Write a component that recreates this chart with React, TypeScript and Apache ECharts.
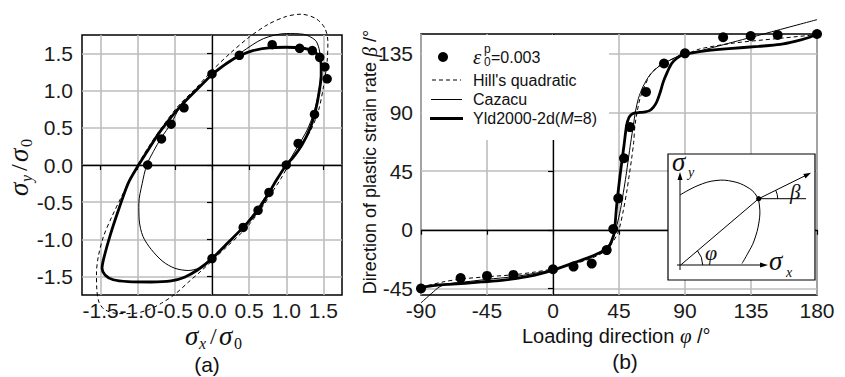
import React, { useEffect, useRef } from "react";
import * as echarts from "echarts";

// ---------- (a) yield loci ----------
const aTicks = [-1.5, -1.0, -0.5, 0, 0.5, 1.0, 1.5];
const aDots = [
  [0, 1.225], [0.368, 1.476], [0.81, 1.62], [1.18, 1.57], [1.35, 1.54], [1.45, 1.45],
  [1.52, 1.32], [1.55, 1.16], [1.38, 0.68], [1.16, 0.29], [1.0, 0], [0.767, -0.37],
  [0.62, -0.61], [0.42, -0.84], [0, -1.26], [-0.866, 0], [-0.68, 0.35], [-0.55, 0.55],
  [-0.377, 0.77],
];
const aYld = [
  [0, 1.22], [0.2, 1.37], [0.37, 1.47], [0.55, 1.54], [0.8, 1.58], [1.0, 1.585], [1.2, 1.575],
  [1.35, 1.54], [1.43, 1.47], [1.47, 1.35], [1.47, 1.2], [1.45, 1.03], [1.4, 0.76], [1.32, 0.49],
  [1.21, 0.27], [1.09, 0.1], [1.0, 0], [0.87, -0.2], [0.77, -0.37], [0.62, -0.61], [0.42, -0.84],
  [0.2, -1.06], [0, -1.26], [-0.19, -1.41], [-0.37, -1.51], [-0.55, -1.56], [-0.82, -1.575],
  [-1.13, -1.57], [-1.33, -1.545], [-1.44, -1.48], [-1.48, -1.39], [-1.45, -1.23], [-1.375, -0.96],
  [-1.26, -0.61], [-1.13, -0.25], [-1.0, -0.02], [-0.88, 0.17], [-0.7, 0.45], [-0.43, 0.785],
  [-0.21, 1.01], [0, 1.22],
];
const aCazacu = [
  [0, 1.22], [0.2, 1.37], [0.4, 1.52], [0.69, 1.7], [1.0, 1.77], [1.23, 1.76], [1.39, 1.68],
  [1.44, 1.57], [1.46, 1.42], [1.46, 1.2], [1.43, 0.95], [1.37, 0.7], [1.28, 0.47], [1.16, 0.26],
  [1.06, 0.09], [1.0, 0], [0.87, -0.2], [0.75, -0.38], [0.6, -0.6], [0.42, -0.83], [0.2, -1.05],
  [0, -1.26], [-0.17, -1.385], [-0.32, -1.42], [-0.5, -1.39], [-0.66, -1.3], [-0.815, -1.14],
  [-0.93, -0.96], [-0.98, -0.74], [-0.985, -0.52], [-0.94, -0.25], [-0.878, 0], [-0.79, 0.18],
  [-0.68, 0.37], [-0.55, 0.56], [-0.43, 0.775], [-0.21, 1.0], [0, 1.22],
];
const aHill = [
  [1.03, 0], [1.17, 0.22], [1.32, 0.45], [1.43, 0.72], [1.5, 1.05], [1.55, 1.4], [1.56, 1.66],
  [1.52, 1.84], [1.4, 1.97], [1.2, 2.03], [1.0, 2.0], [0.75, 1.89], [0.5, 1.72], [0.24, 1.5],
  [0, 1.27], [-0.22, 1.03], [-0.45, 0.8], [-0.68, 0.5], [-0.85, 0.25], [-1.0, 0], [-1.1, -0.2],
  [-1.22, -0.43], [-1.35, -0.7], [-1.46, -0.96], [-1.53, -1.23], [-1.555, -1.455], [-1.55, -1.68],
  [-1.52, -1.85], [-1.44, -1.95], [-1.26, -2.0], [-1.08, -2.0], [-0.86, -1.95], [-0.68, -1.86],
  [-0.5, -1.74], [-0.31, -1.57], [-0.15, -1.43], [0, -1.29], [0.2, -1.1], [0.44, -0.87],
  [0.64, -0.62], [0.8, -0.38], [0.93, -0.18], [1.03, 0],
];

// ---------- (b) direction of plastic strain rate ----------
const bYTicks = [-45, 0, 45, 90, 135];
const bDots = [
  [-90, -45], [-63, -37], [-45, -35.4], [-27, -34.6], [0, -30.3], [14, -28.2], [26.4, -25.9],
  [36.6, -15.6], [41.1, 0.5], [44.5, 24.1], [48.4, 54.8], [52.5, 78.7], [63.4, 105.6],
  [75.7, 127.4], [90, 135.2], [116, 147.5], [134.8, 148.5], [153.2, 149.2], [180, 150],
];
const bYld = [
  [-90, -44], [-80, -42.6], [-71, -41.8], [-60, -41], [-48.6, -40], [-35, -38.8], [-26, -37.5],
  [-13, -35], [0, -31], [15, -25], [25, -21], [31, -18], [37.7, -13.6], [40.5, -7], [41.8, -2],
  [43.4, 18.5], [45.7, 41.5], [48.4, 64.6], [50.2, 80], [51.8, 86], [53.6, 88.4], [56, 89.5],
  [59.3, 89.9], [63, 90.4], [66.1, 91.5], [68.5, 94], [70.7, 97.9], [73, 105], [75.2, 113.3],
  [78, 121], [80.9, 127.4], [84, 131], [87.7, 133.8], [95, 135.6], [105, 137.2], [120, 138.8],
  [140, 140.5], [155, 142], [165, 144.3], [175, 147.5], [180, 150],
];
const bHill = [
  [-90, -44], [-75, -40], [-63, -37.8], [-45, -36], [-27, -34.5], [-13, -32.5], [0, -30],
  [15, -26], [28, -21], [36, -16], [41, -9], [44, -3], [45.7, 3], [48, 15], [50.2, 28.7],
  [52, 42], [53.6, 54.4], [55, 67], [55.9, 80], [57.5, 91], [59.3, 100.5], [62.5, 110],
  [66.1, 118.5], [71, 124.5], [77.5, 128.7], [84, 132], [90, 134], [100, 138.5], [123, 143],
  [153, 146.5], [180, 149.5],
];
const bCazacu = [
  [-90, -56], [-83, -49], [-77, -43.5], [-70, -41.2], [-60, -40], [-45, -38], [-27, -36],
  [-13, -33.5], [0, -30.5], [15, -25.5], [28, -19.5], [36, -14], [40.5, -7], [43.4, 3],
  [46, 15.5], [48, 28.7], [49.8, 41.5], [51.4, 54.4], [53, 67], [54.8, 80], [56.3, 91],
  [58.2, 100.5], [61.5, 110], [66, 118.5], [72, 125], [79.8, 130], [85, 132.8], [90, 134.5],
  [100, 137], [180, 161],
];

const legendNames = ["Hill's quadratic", "Cazacu"];

const SANS = "Liberation Sans, Arial, sans-serif";
const SERIF = "Liberation Serif, Times New Roman, serif";

function axisCommon(ticks: number[] | null, fmt: (v: number) => string, gridIndex: number) {
  const tick: any = { show: true, inside: false, length: 5, lineStyle: { color: "#000", width: 1.2 } };
  const label: any = { fontSize: 21, fontFamily: SANS, color: "#1a1a1a", formatter: fmt };
  if (ticks) {
    tick.customValues = ticks;
    label.customValues = ticks;
  }
  return {
    gridIndex,
    type: "value",
    axisLine: { show: false },
    axisTick: tick,
    axisLabel: label,
    splitLine: { show: true, lineStyle: { color: "#bdbdbd", width: 1.6 } },
  };
}

function curve(data: number[][], idx: number, width: number, dashed: boolean, z: number) {
  return {
    type: "line",
    xAxisIndex: idx,
    yAxisIndex: idx,
    data,
    smooth: 0.3,
    showSymbol: false,
    symbol: "none",
    clip: false,
    silent: true,
    z,
    lineStyle: { color: "#000", width, type: dashed ? [4, 3] : "solid" },
  };
}

function zeroLines(idx: number) {
  return {
    type: "line",
    xAxisIndex: idx,
    yAxisIndex: idx,
    data: [],
    silent: true,
    z: 1,
    markLine: {
      silent: true,
      symbol: ["none", "none"],
      label: { show: false },
      lineStyle: { color: "#000", width: 1.3, type: "solid" },
      data: [{ xAxis: 0 }, { yAxis: 0 }],
    },
  };
}

function t(x: number, y: number, text: string, size: number, family: string, italic = false, align = "left", extra: any = {}) {
  return {
    type: "text",
    x,
    y,
    z: 20,
    silent: true,
    style: {
      text,
      fontSize: size,
      fontFamily: family,
      fontStyle: italic ? "italic" : "normal",
      fill: "#111",
      align,
      verticalAlign: "middle",
      ...extra,
    },
  };
}

export default function App() {
  const ref = useRef<HTMLDivElement>(null);
  useEffect(() => {
    if (!ref.current) return;
    const chart = echarts.init(ref.current, null, { renderer: "svg" });
    const fmt1 = (v: number) => v.toFixed(1);
    const fmt0 = (v: number) => String(Math.round(v));

    const xA: any = { ...axisCommon(aTicks, fmt1, 0), min: -1.75, max: 1.75 };
    xA.axisLabel.margin = 5;
    const yA: any = { ...axisCommon(aTicks, fmt1, 0), min: -1.75, max: 1.75 };
    yA.axisLabel.margin = 9;
    const xB: any = { ...axisCommon(null, fmt0, 1), min: -90, max: 180, interval: 45 };
    xB.axisLabel.margin = 5;
    const yB: any = { ...axisCommon(bYTicks, fmt0, 1), min: -50, max: 150 };
    yB.axisLabel.margin = 8;

    const legendX = 473;
    const graphic: any[] = [
      // (a) axis names
      t(185, 336, "σ", 27, SERIF, true),
      t(199, 343, "x", 16, SERIF, true),
      t(210, 336, "/", 24, SERIF, false),
      t(219, 336, "σ", 27, SERIF, true),
      t(234, 343, "0", 16, SERIF, false),
      {
        type: "group",
        x: 19,
        y: 196,
        rotation: Math.PI / 2,
        z: 20,
        children: [
          t(0, 0, "σ", 27, SERIF, true),
          t(14, 7, "y", 16, SERIF, true),
          t(25, 0, "/", 24, SERIF, false),
          t(34, 0, "σ", 27, SERIF, true),
          t(49, 7, "0", 16, SERIF, false),
        ],
      },
      t(207, 364, "(a)", 21, SANS, false, "center"),
      t(625, 361, "(b)", 21, SANS, false, "center"),
      // (b) axis names
      {
        type: "text",
        x: 522,
        y: 336,
        z: 20,
        silent: true,
        style: {
          text: "{a|Loading direction }{g|φ}{a| /°}",
          fill: "#111",
          verticalAlign: "middle",
          rich: {
            a: { fontSize: 20, fontFamily: SANS, fill: "#111" },
            g: { fontSize: 21, fontFamily: SERIF, fontStyle: "italic", fill: "#111" },
          },
        },
      },
      {
        type: "text",
        x: 370,
        y: 162,
        rotation: Math.PI / 2,
        z: 20,
        silent: true,
        style: {
          text: "{a|Direction of plastic strain rate }{g|β}{a| /°}",
          fill: "#111",
          align: "center",
          verticalAlign: "middle",
          rich: {
            a: { fontSize: 18, fontFamily: SANS, fill: "#111" },
            g: { fontSize: 20, fontFamily: SERIF, fontStyle: "italic", fill: "#111" },
          },
        },
      },
      // legend box
      { type: "rect", z: 15, silent: true, shape: { x: 422, y: 35, width: 187, height: 105 }, style: { fill: "#fff" } },
      { type: "circle", z: 20, silent: true, shape: { cx: 443, cy: 57, r: 5 }, style: { fill: "#000" } },
      t(legendX, 57, "ε", 21, SERIF, true),
      t(legendX + 11, 62, "0", 12, SANS),
      t(legendX + 11, 49, "p", 12, SANS),
      t(legendX + 18, 57, "=0.003", 16, SANS),
      { type: "line", z: 20, silent: true, shape: { x1: 432, y1: 80, x2: 461, y2: 80 }, style: { stroke: "#000", lineWidth: 1, lineDash: [4, 3] } },
      t(legendX, 80, legendNames[0], 16, SANS),
      { type: "line", z: 20, silent: true, shape: { x1: 431, y1: 99.5, x2: 462, y2: 99.5 }, style: { stroke: "#000", lineWidth: 1 } },
      t(legendX, 99.5, legendNames[1], 16, SANS),
      { type: "line", z: 20, silent: true, shape: { x1: 430, y1: 118.5, x2: 463, y2: 118.5 }, style: { stroke: "#000", lineWidth: 3 } },
      {
        type: "text",
        x: legendX,
        y: 118.5,
        z: 20,
        silent: true,
        style: {
          text: "{a|Yld2000-2d(}{i|M}{a|=8)}",
          fill: "#111",
          verticalAlign: "middle",
          rich: {
            a: { fontSize: 16, fontFamily: SANS, fill: "#111" },
            i: { fontSize: 16, fontFamily: SANS, fontStyle: "italic", fill: "#111" },
          },
        },
      },
      // inset
      { type: "rect", z: 15, silent: true, shape: { x: 668, y: 154, width: 147, height: 126 }, style: { fill: "#fff", stroke: "#000", lineWidth: 1.2 } },
      { type: "line", z: 20, silent: true, shape: { x1: 680, y1: 270, x2: 680, y2: 178 }, style: { stroke: "#000", lineWidth: 1 } },
      { type: "polygon", z: 20, silent: true, shape: { points: [[680, 172], [677.5, 180], [682.5, 180]] }, style: { fill: "#000" } },
      { type: "line", z: 20, silent: true, shape: { x1: 677, y1: 265, x2: 762, y2: 265 }, style: { stroke: "#000", lineWidth: 1 } },
      { type: "polygon", z: 20, silent: true, shape: { points: [[768, 265], [760, 262.5], [760, 267.5]] }, style: { fill: "#000" } },
      {
        type: "polyline", z: 20, silent: true,
        shape: { smooth: 0.4, points: [[680, 195], [698, 185.5], [716, 180.5], [733, 181.5], [747, 187], [756, 195], [759.5, 206], [759, 222], [754, 241], [748, 253], [742, 263.5]] },
        style: { stroke: "#000", lineWidth: 1, fill: "none" },
      },
      { type: "line", z: 20, silent: true, shape: { x1: 680.7, y1: 265, x2: 758.7, y2: 198.7 }, style: { stroke: "#000", lineWidth: 1 } },
      { type: "line", z: 20, silent: true, shape: { x1: 758.7, y1: 198.7, x2: 806, y2: 198.7 }, style: { stroke: "#000", lineWidth: 1 } },
      { type: "line", z: 20, silent: true, shape: { x1: 758.7, y1: 198.7, x2: 806, y2: 175.3 }, style: { stroke: "#000", lineWidth: 1 } },
      { type: "polygon", z: 20, silent: true, shape: { points: [[811, 172.8], [803.3, 174], [805.5, 178.4]] }, style: { fill: "#000" } },
      { type: "circle", z: 21, silent: true, shape: { cx: 758.7, cy: 198.7, r: 2.6 }, style: { fill: "#000" } },
      { type: "arc", z: 20, silent: true, shape: { cx: 680.7, cy: 265, r: 22, startAngle: -0.705, endAngle: 0, clockwise: true }, style: { stroke: "#000", fill: "none", lineWidth: 1 } },
      { type: "arc", z: 20, silent: true, shape: { cx: 758.7, cy: 198.7, r: 19, startAngle: -0.46, endAngle: 0, clockwise: true }, style: { stroke: "#000", fill: "none", lineWidth: 1 } },
      t(705, 252, "φ", 22, SERIF, true),
      t(790, 192, "β", 21, SERIF, true),
      t(672, 162, "σ", 27, SERIF, true),
      t(688, 172, "y", 14, SERIF, true),
      t(769, 261, "σ", 27, SERIF, true),
      t(786, 272, "x", 14, SERIF, true),
    ];

    const dotStyle = { color: "#000", opacity: 1 };

    chart.setOption({
      animation: false,
      backgroundColor: "#fff",
      grid: [
        { left: 82, top: 35, width: 260, height: 260, show: true, borderColor: "#000", borderWidth: 1.5, backgroundColor: "transparent" },
        { left: 421, top: 34, width: 396, height: 261, show: true, borderColor: "#000", borderWidth: 1.5, backgroundColor: "transparent" },
      ],
      xAxis: [xA, xB],
      yAxis: [yA, yB],
      series: [
        zeroLines(0),
        curve(aHill, 0, 1, true, 3),
        curve(aCazacu, 0, 1, false, 3),
        curve(aYld, 0, 2.8, false, 4),
        { type: "scatter", xAxisIndex: 0, yAxisIndex: 0, data: aDots, symbolSize: 9.5, itemStyle: dotStyle, z: 5, silent: true },
        zeroLines(1),
        curve(bHill, 1, 1, true, 3),
        curve(bCazacu, 1, 1, false, 3),
        curve(bYld, 1, 2.8, false, 4),
        { type: "scatter", xAxisIndex: 1, yAxisIndex: 1, data: bDots, symbolSize: 10, itemStyle: dotStyle, z: 5, silent: true },
      ],
      graphic,
    });
    return () => chart.dispose();
  }, []);
  return <div ref={ref} style={{ position: "absolute", left: 0, top: 0, width: 845, height: 377, background: "#fff" }} />;
}
